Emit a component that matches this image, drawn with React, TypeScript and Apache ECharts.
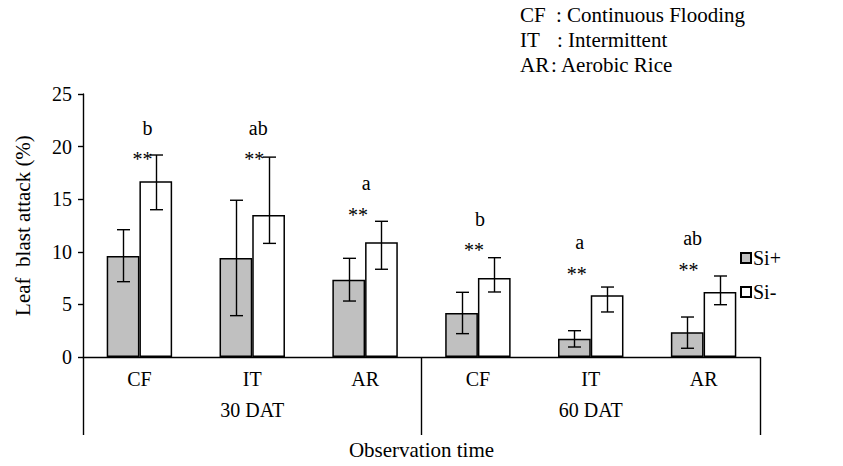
import React, { useEffect, useRef } from "react";
import * as echarts from "echarts";

const categories = ["CF", "IT", "AR", "CF", "IT", "AR"];
const groups = ["30 DAT", "60 DAT"];
const siPlus = [9.6, 9.4, 7.35, 4.18, 1.74, 2.35];
const siPlusLow = [7.16, 3.93, 5.32, 2.22, 0.95, 0.83];
const siPlusHigh = [12.1, 14.9, 9.38, 6.15, 2.5, 3.8];
const siMinus = [16.7, 13.5, 10.9, 7.52, 5.86, 6.18];
const siMinusLow = [14.0, 10.8, 8.34, 6.18, 4.28, 4.97];
const siMinusHigh = [19.2, 19.0, 12.9, 9.44, 6.65, 7.7];
const letters = ["b", "ab", "a", "b", "a", "ab"];
const letterY = [21.8, 21.8, 16.5, 13.1, 10.9, 11.3];
const stars = ["**", "**", "**", "**", "**", "**"];
const starY = [18.8, 18.8, 13.5, 10.2, 7.9, 8.3];
const yTicks = { min: 0, max: 25, interval: 5 };
const legendNotes = [
  ["CF", ": Continuous Flooding"],
  ["IT", ": Intermittent"],
  ["AR", ": Aerobic Rice"],
];

// layout-only offsets (px) for annotation text
const letterDx = [8, 6, 1, 2, -11, -11];
const starDx = [3, 2, -7, -4, -14, -15];
const noteColonX = [556, 557, 551];

const FONT = "Liberation Serif, Times New Roman, serif";
const GAP = 0.42;

function errorSeries(low: number[], high: number[], side: number) {
  return {
    type: "custom",
    silent: true,
    z: 5,
    data: low.map((l, i) => [i, l, high[i]]),
    renderItem: (params: any, api: any) => {
      const i = api.value(0);
      const lo = api.coord([i, api.value(1)]);
      const hi = api.coord([i, api.value(2)]);
      const band = api.size([1, 0])[0];
      const barW = (band * (1 - GAP)) / 2;
      const x = Math.round(lo[0] + (side * barW) / 2) + 0.5;
      const cap = 6.5;
      const st = { stroke: "#000", lineWidth: 1.4 };
      return {
        type: "group",
        children: [
          { type: "line", shape: { x1: x, y1: lo[1], x2: x, y2: hi[1] }, style: st },
          { type: "line", shape: { x1: x - cap, y1: lo[1], x2: x + cap, y2: lo[1] }, style: st },
          { type: "line", shape: { x1: x - cap, y1: hi[1], x2: x + cap, y2: hi[1] }, style: st },
        ],
      };
    },
  };
}

function textSeries(texts: string[], ys: number[], dx: number[], color: string, size: number) {
  return {
    type: "custom",
    silent: true,
    z: 6,
    data: ys.map((y, i) => [i, y]),
    renderItem: (params: any, api: any) => {
      const i = api.value(0);
      const p = api.coord([i, api.value(1)]);
      return {
        type: "text",
        x: p[0] + dx[i],
        y: p[1],
        style: {
          text: texts[i],
          fill: color,
          fontSize: size,
          fontFamily: FONT,
          align: "center",
          verticalAlign: "middle",
        },
      };
    },
  };
}

export default function App() {
  const ref = useRef<HTMLDivElement>(null);
  useEffect(() => {
    document.body.style.margin = "0";
    if (!ref.current) return;
    const chart = echarts.init(ref.current, null, { renderer: "svg" });
    const graphics: any[] = [];
    legendNotes.forEach((n, k) => {
      graphics.push({
        type: "text",
        left: 520,
        top: 4 + k * 25,
        style: { text: n[0], fontSize: 21, fontFamily: FONT, fill: "#000" },
      });
      graphics.push({
        type: "text",
        left: noteColonX[k],
        top: 4 + k * 25,
        style: { text: n[1], fontSize: 21, fontFamily: FONT, fill: "#000" },
      });
    });
    chart.setOption({
      animation: false,
      backgroundColor: "#fff",
      textStyle: { fontFamily: FONT },
      grid: { left: 83, right: 83, top: 94, bottom: 109, containLabel: false },
      legend: {
        orient: "vertical",
        left: 740,
        top: 248,
        itemGap: 14,
        itemWidth: 10,
        itemHeight: 10,
        padding: 0,
        icon: "rect",
        data: ["Si+", "Si-"],
        textStyle: { fontSize: 20, color: "#000", fontFamily: FONT, padding: [0, 0, 0, -3] },
      },
      xAxis: [
        {
          type: "category",
          data: categories,
          axisLine: { show: true, lineStyle: { color: "#000", width: 1.4 } },
          axisTick: { show: false },
          axisLabel: { color: "#000", fontSize: 20, margin: 12, fontFamily: FONT },
          splitLine: { show: false },
        },
        {
          type: "category",
          data: groups,
          position: "bottom",
          axisLine: { show: false },
          axisTick: { show: true, length: 78, lineStyle: { color: "#000", width: 1.4 } },
          axisLabel: { color: "#000", fontSize: 20, margin: 43, fontFamily: FONT },
          name: "Observation time",
          nameLocation: "middle",
          nameGap: 82,
          nameTextStyle: { color: "#000", fontSize: 21, fontFamily: FONT },
          splitLine: { show: false },
        },
      ],
      yAxis: {
        type: "value",
        min: yTicks.min,
        max: yTicks.max,
        interval: yTicks.interval,
        axisLine: { show: true, lineStyle: { color: "#000", width: 1.4 } },
        axisTick: { show: true, length: 5, lineStyle: { color: "#000", width: 1.4 } },
        axisLabel: { color: "#000", fontSize: 20, margin: 11, fontFamily: FONT },
        splitLine: { show: false },
        name: "Leaf  blast attack (%)",
        nameLocation: "middle",
        nameGap: 50,
        nameTextStyle: { color: "#000", fontSize: 21, fontFamily: FONT },
      },
      graphic: graphics,
      series: [
        {
          name: "Si+",
          type: "bar",
          data: siPlus,
          barGap: "0%",
          barCategoryGap: `${GAP * 100}%`,
          itemStyle: { color: "#c0c0c0", borderColor: "#000", borderWidth: 1.5 },
        },
        {
          name: "Si-",
          type: "bar",
          data: siMinus,
          barGap: "0%",
          barCategoryGap: `${GAP * 100}%`,
          itemStyle: { color: "#ffffff", borderColor: "#000", borderWidth: 1.5 },
        },
        errorSeries(siPlusLow, siPlusHigh, -1),
        errorSeries(siMinusLow, siMinusHigh, 1),
        textSeries(letters, letterY, letterDx, "#000", 20),
        textSeries(stars, starY, starDx, "#000", 20),
      ],
    });
    return () => chart.dispose();
  }, []);
  return <div ref={ref} style={{ width: 843, height: 466 }} />;
}
